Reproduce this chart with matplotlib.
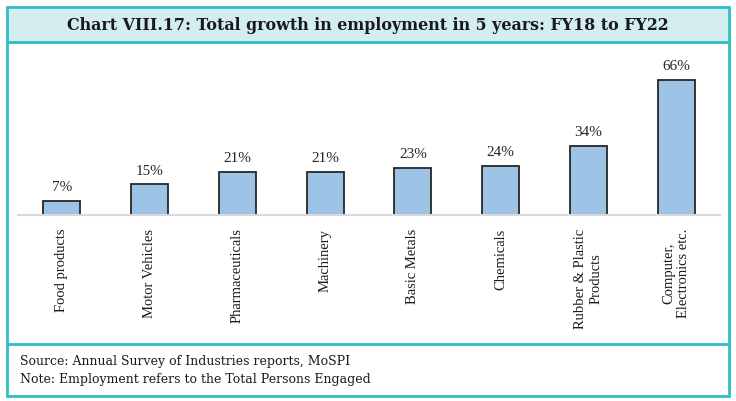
import numpy as np
import matplotlib.pyplot as plt
from matplotlib.patches import Rectangle

categories = ['Food products', 'Motor Vehicles', 'Pharmaceuticals', 'Machinery',
              'Basic Metals', 'Chemicals', 'Rubber & Plastic\nProducts',
              'Computer,\nElectronics etc.']
growth = [7, 15, 21, 21, 23, 24, 34, 66]

W, H = 736, 402
fig = plt.figure(figsize=(W / 100, H / 100), dpi=100)
plt.rcParams['font.family'] = ['Liberation Serif', 'DejaVu Serif']

teal = '#2ebfc4'

def fx(px):
    return px / W

def fy(py):
    return 1 - py / H

# outer frame and title band
fig.patches.append(Rectangle((fx(7), fy(43)), fx(722), (43 - 8) / H,
                             transform=fig.transFigure, facecolor='#d4edf1',
                             edgecolor='none', zorder=0))
fig.patches.append(Rectangle((fx(7), fy(397)), fx(722), (397 - 8) / H,
                             transform=fig.transFigure, facecolor='none',
                             edgecolor=teal, lw=2, zorder=5))
for py in [43, 345]:
    fig.add_artist(plt.Line2D([fx(7), fx(729)], [fy(py), fy(py)],
                              transform=fig.transFigure, color=teal, lw=2))

fig.text(0.5, fy(26), 'Chart VIII.17: Total growth in employment in 5 years: FY18 to FY22',
         ha='center', va='center', fontsize=11.4, fontweight='bold',
         family=['DejaVu Serif'], color='#1a1a1a')

ax = fig.add_axes([fx(18), fy(216), fx(702), (216 - 73) / H])
x = np.arange(len(categories))
ax.bar(x, growth, width=0.42, color='#9dc3e6', edgecolor='#262626', lw=1.3, zorder=2)
for xi, v in zip(x, growth):
    ax.text(xi, v + 3.8, f'{v}%', ha='center', va='bottom', fontsize=11, color='#262626')
ax.set_xlim(-0.5, len(categories) - 0.5)
ax.set_ylim(0, 70)
ax.set_yticks([])
ax.set_xticks(x)
ax.set_xticklabels(categories, rotation=90, ha='center', va='top',
                   multialignment='center', fontsize=10.5, color='#1a1a1a')
ax.tick_params(axis='x', length=0, pad=9)
for s in ['top', 'right', 'left']:
    ax.spines[s].set_visible(False)
ax.spines['bottom'].set_color('#d9d9d9')
ax.spines['bottom'].set_linewidth(1.5)
ax.patch.set_alpha(0)

fig.text(fx(20), fy(362), 'Source: Annual Survey of Industries reports, MoSPI',
         ha='left', va='center', fontsize=9, family=['DejaVu Serif'], color='#1a1a1a')
fig.text(fx(20), fy(380), 'Note: Employment refers to the Total Persons Engaged',
         ha='left', va='center', fontsize=9, family=['DejaVu Serif'], color='#1a1a1a')

fig.savefig('out.png', dpi=100)
